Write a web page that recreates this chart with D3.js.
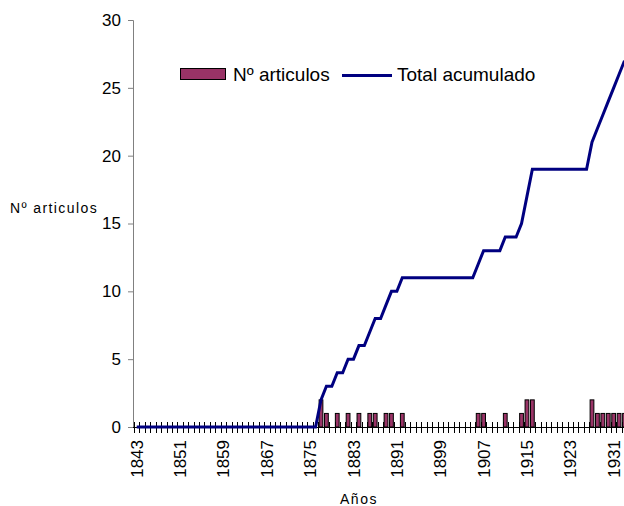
<!DOCTYPE html>
<html>
<head>
<meta charset="utf-8">
<script src="https://cdn.jsdelivr.net/npm/d3@7"></script>
<style>
  body { margin: 0; background: #fff; overflow: hidden; }
  svg { font-family: Arial, "Liberation Sans", sans-serif; display: block; }
</style>
</head>
<body>
<svg id="chart"></svg>
<script>
// categories: one per year
var years = d3.range(1843, 1934);

// Nº articulos per year
var articulos = [
  0, 0, 0, 0, 0, 0, 0, 0, 0, 0,   // 1843-1852
  0, 0, 0, 0, 0, 0, 0, 0, 0, 0,   // 1853-1862
  0, 0, 0, 0, 0, 0, 0, 0, 0, 0,   // 1863-1872
  0, 0, 0, 0, 2, 1, 0, 1, 0, 1,   // 1873-1882
  0, 1, 0, 1, 1, 0, 1, 1, 0, 1,   // 1883-1892
  0, 0, 0, 0, 0, 0, 0, 0, 0, 0,   // 1893-1902
  0, 0, 0, 1, 1, 0, 0, 0, 1, 0,   // 1903-1912
  0, 1, 2, 2, 0, 0, 0, 0, 0, 0,   // 1913-1922
  0, 0, 0, 0, 2, 1, 1, 1, 1, 1,   // 1923-1932
  1                               // 1933
];

// Total acumulado
var acumulado = [
  0, 0, 0, 0, 0, 0, 0, 0, 0, 0,
  0, 0, 0, 0, 0, 0, 0, 0, 0, 0,
  0, 0, 0, 0, 0, 0, 0, 0, 0, 0,
  0, 0, 0, 0, 2, 3, 3, 4, 4, 5,
  5, 6, 6, 7, 8, 8, 9, 10, 10, 11,
  11, 11, 11, 11, 11, 11, 11, 11, 11, 11,
  11, 11, 11, 12, 13, 13, 13, 13, 14, 14,
  14, 15, 17, 19, 19, 19, 19, 19, 19, 19,
  19, 19, 19, 19, 21, 22, 23, 24, 25, 26,
  27
];

var yTicks = [0, 5, 10, 15, 20, 25, 30];
var labelYears = [1843, 1851, 1859, 1867, 1875, 1883, 1891, 1899, 1907, 1915, 1923, 1931];

var width = 624;
var height = 506;
var plotLeft = 133;
var bandLeft = 134;
var bandW = 5.42;
var plotTop = 20;
var plotBottom = 427;

var svg = d3.select("#chart")
    .attr("width", width)
    .attr("height", height);

var x = d3.scaleBand()
    .domain(years)
    .range([bandLeft, bandLeft + years.length * bandW])
    .paddingInner(0.12)
    .paddingOuter(0.06);

var y = d3.scaleLinear()
    .domain([0, 30])
    .range([plotBottom, plotTop]);

// y axis
var yAxis = d3.axisLeft(y)
    .tickValues(yTicks)
    .tickSize(5)
    .tickPadding(7);

var gy = svg.append("g")
    .attr("transform", "translate(" + plotLeft + ",0)")
    .call(yAxis);
gy.select(".domain").attr("stroke", "#808080");
gy.selectAll(".tick line").attr("stroke", "#808080");
gy.selectAll("text")
    .style("font-size", "17px")
    .attr("fill", "#000");

// bars
var barData = years.map(function (yr, i) { return {year: yr, v: articulos[i]}; })
    .filter(function (d) { return d.v > 0; });

svg.append("g").selectAll("rect")
    .data(barData)
    .enter()
    .append("rect")
    .attr("x", function (d) { return x(d.year) + 0.5; })
    .attr("y", function (d) { return y(d.v); })
    .attr("width", x.bandwidth() - 1)
    .attr("height", function (d) { return plotBottom - y(d.v); })
    .attr("fill", "#993366")
    .attr("stroke", "#000")
    .attr("stroke-width", 1);

// x axis line and ticks (between categories)
svg.append("line")
    .attr("x1", plotLeft).attr("x2", width)
    .attr("y1", plotBottom + 0.5).attr("y2", plotBottom + 0.5)
    .attr("stroke", "#000");

var step = x.step();
svg.append("g").selectAll("line")
    .data(years)
    .enter()
    .append("line")
    .attr("x1", function (d) { return Math.round(x(d) + x.bandwidth() / 2 - step / 2) + 0.5; })
    .attr("x2", function (d) { return Math.round(x(d) + x.bandwidth() / 2 - step / 2) + 0.5; })
    .attr("y1", plotBottom - 5)
    .attr("y2", plotBottom + 6)
    .attr("stroke", "#000")
    .attr("stroke-width", 1);

// x labels
svg.append("g").selectAll("text")
    .data(labelYears)
    .enter()
    .append("text")
    .attr("transform", function (d) {
        return "translate(" + (x(d) + x.bandwidth() / 2 + 6) + "," + (plotBottom + 13) + ") rotate(-90)";
    })
    .attr("text-anchor", "end")
    .style("font-size", "17px")
    .text(function (d) { return d; });

// cumulative line
var line = d3.line()
    .x(function (d, i) { return x(years[i]) + x.bandwidth() / 2; })
    .y(function (d) { return y(d); });

svg.append("path")
    .datum(acumulado)
    .attr("d", line)
    .attr("fill", "none")
    .attr("stroke", "#000080")
    .attr("stroke-width", 3)
    .attr("stroke-linejoin", "miter");

// axis titles
svg.append("text")
    .attr("x", 10)
    .attr("y", 213)
    .style("font-size", "14px")
    .style("letter-spacing", "1.4px")
    .text("Nº articulos");

svg.append("text")
    .attr("x", 359)
    .attr("y", 504)
    .attr("text-anchor", "middle")
    .style("font-size", "14px")
    .style("letter-spacing", "1.5px")
    .text("Años");

// legend
var legend = svg.append("g");
legend.append("rect")
    .attr("x", 180.5).attr("y", 68.5)
    .attr("width", 45).attr("height", 11)
    .attr("fill", "#993366")
    .attr("stroke", "#000");
legend.append("text")
    .attr("x", 233).attr("y", 81)
    .style("font-size", "19px")
    .text("Nº articulos");
legend.append("line")
    .attr("x1", 342).attr("x2", 392)
    .attr("y1", 75.5).attr("y2", 75.5)
    .attr("stroke", "#000080")
    .attr("stroke-width", 3);
legend.append("text")
    .attr("x", 397).attr("y", 81)
    .style("font-size", "19px")
    .text("Total acumulado");
</script>
</body>
</html>
